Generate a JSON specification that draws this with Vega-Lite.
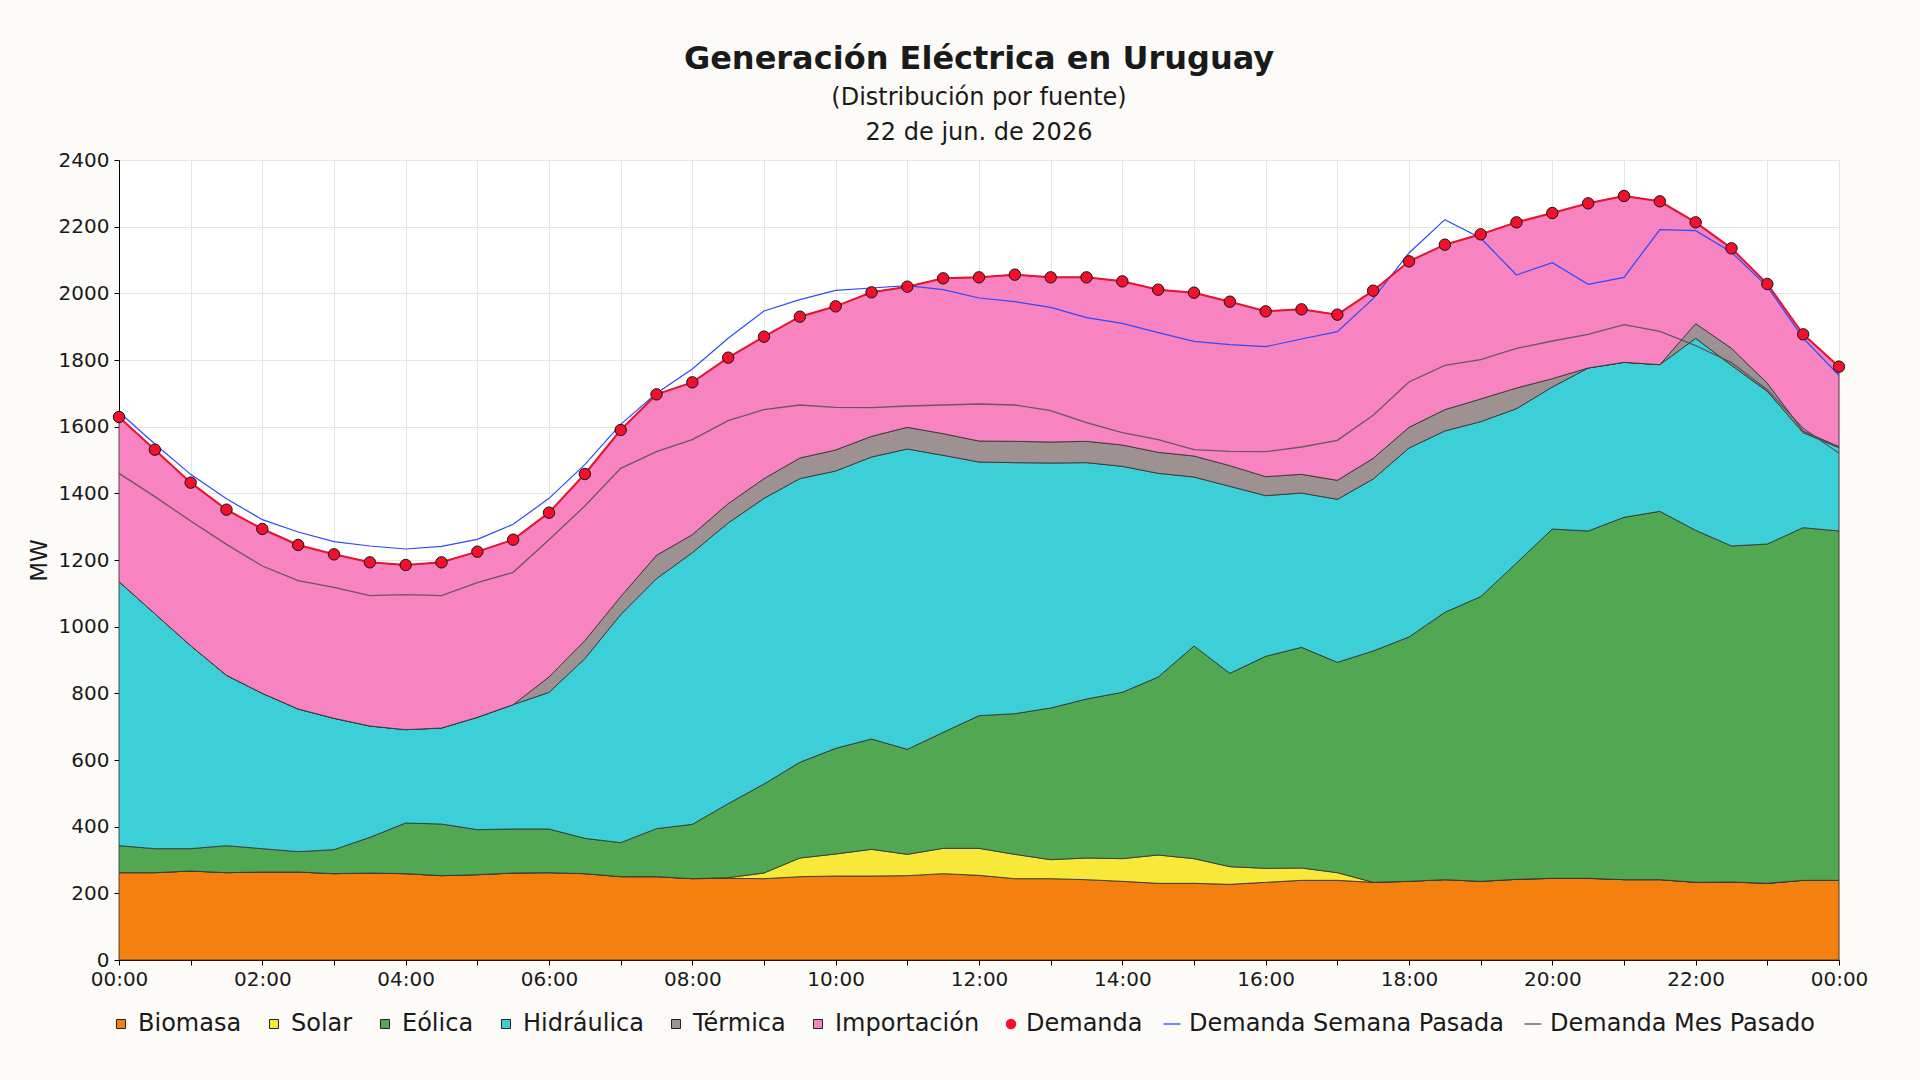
{
  "$schema": "https://vega.github.io/schema/vega-lite/v6.json",
  "width": 1720,
  "height": 800,
  "autosize": {"type": "none"},
  "padding": {"left": 119, "top": 160, "right": 81, "bottom": 120},
  "background": "#fcfbf7",
  "title": {
    "text": "Generación Eléctrica en Uruguay",
    "subtitle": ["(Distribución por fuente)", "22 de jun. de 2026"],
    "anchor": "middle",
    "font": "DejaVu Sans",
    "fontSize": 32,
    "fontWeight": "bold",
    "color": "#1a1a1a",
    "subtitleFont": "DejaVu Sans",
    "subtitleFontSize": 24,
    "subtitleLineHeight": 35,
    "subtitleColor": "#1a1a1a",
    "subtitlePadding": 10,
    "offset": 4
  },
  "config": {
    "font": "DejaVu Sans",
    "view": {"fill": "#ffffff", "stroke": null}
  },
  "datasets": {
    "fuentes": [
      {"fuente": "Biomasa", "orden": 1},
      {"fuente": "Solar", "orden": 2},
      {"fuente": "Eólica", "orden": 3},
      {"fuente": "Hidráulica", "orden": 4},
      {"fuente": "Térmica", "orden": 5},
      {"fuente": "Importación", "orden": 6}
    ],
    "generacion": [
      {"hora": "2026-06-22T00:00", "Biomasa": 262, "Solar": 0, "Eólica": 81, "Hidráulica": 792, "Térmica": 0, "Importación": 494, "Demanda": 1629, "Semana": 1644, "Mes": 1460},
      {"hora": "2026-06-22T00:30", "Biomasa": 262, "Solar": 0, "Eólica": 72, "Hidráulica": 705, "Térmica": 0, "Importación": 492, "Demanda": 1531, "Semana": 1548, "Mes": 1390},
      {"hora": "2026-06-22T01:00", "Biomasa": 267, "Solar": 0, "Eólica": 67, "Hidráulica": 609, "Térmica": 0, "Importación": 489, "Demanda": 1432, "Semana": 1457, "Mes": 1317},
      {"hora": "2026-06-22T01:30", "Biomasa": 262, "Solar": 0, "Eólica": 81, "Hidráulica": 511, "Térmica": 0, "Importación": 497, "Demanda": 1351, "Semana": 1384, "Mes": 1247},
      {"hora": "2026-06-22T02:00", "Biomasa": 264, "Solar": 0, "Eólica": 70, "Hidráulica": 466, "Térmica": 0, "Importación": 493, "Demanda": 1293, "Semana": 1321, "Mes": 1182},
      {"hora": "2026-06-22T02:30", "Biomasa": 264, "Solar": 0, "Eólica": 61, "Hidráulica": 428, "Térmica": 0, "Importación": 492, "Demanda": 1245, "Semana": 1284, "Mes": 1138},
      {"hora": "2026-06-22T03:00", "Biomasa": 259, "Solar": 0, "Eólica": 72, "Hidráulica": 394, "Térmica": 0, "Importación": 492, "Demanda": 1217, "Semana": 1255, "Mes": 1118},
      {"hora": "2026-06-22T03:30", "Biomasa": 261, "Solar": 0, "Eólica": 107, "Hidráulica": 334, "Térmica": 0, "Importación": 491, "Demanda": 1193, "Semana": 1242, "Mes": 1093},
      {"hora": "2026-06-22T04:00", "Biomasa": 259, "Solar": 0, "Eólica": 152, "Hidráulica": 280, "Térmica": 0, "Importación": 494, "Demanda": 1185, "Semana": 1233, "Mes": 1096},
      {"hora": "2026-06-22T04:30", "Biomasa": 253, "Solar": 0, "Eólica": 155, "Hidráulica": 288, "Térmica": 0, "Importación": 497, "Demanda": 1193, "Semana": 1241, "Mes": 1093},
      {"hora": "2026-06-22T05:00", "Biomasa": 256, "Solar": 0, "Eólica": 135, "Hidráulica": 337, "Térmica": 0, "Importación": 497, "Demanda": 1225, "Semana": 1262, "Mes": 1132},
      {"hora": "2026-06-22T05:30", "Biomasa": 261, "Solar": 0, "Eólica": 132, "Hidráulica": 373, "Térmica": 0, "Importación": 495, "Demanda": 1261, "Semana": 1307, "Mes": 1163},
      {"hora": "2026-06-22T06:00", "Biomasa": 262, "Solar": 0, "Eólica": 131, "Hidráulica": 410, "Térmica": 46, "Importación": 493, "Demanda": 1342, "Semana": 1385, "Mes": 1261},
      {"hora": "2026-06-22T06:30", "Biomasa": 259, "Solar": 0, "Eólica": 106, "Hidráulica": 539, "Térmica": 54, "Importación": 500, "Demanda": 1458, "Semana": 1486, "Mes": 1362},
      {"hora": "2026-06-22T07:00", "Biomasa": 250, "Solar": 0, "Eólica": 102, "Hidráulica": 684, "Térmica": 54, "Importación": 500, "Demanda": 1590, "Semana": 1607, "Mes": 1475},
      {"hora": "2026-06-22T07:30", "Biomasa": 250, "Solar": 0, "Eólica": 144, "Hidráulica": 750, "Térmica": 70, "Importación": 483, "Demanda": 1697, "Semana": 1700, "Mes": 1525},
      {"hora": "2026-06-22T08:00", "Biomasa": 244, "Solar": 0, "Eólica": 163, "Hidráulica": 815, "Térmica": 54, "Importación": 457, "Demanda": 1733, "Semana": 1773, "Mes": 1561},
      {"hora": "2026-06-22T08:30", "Biomasa": 245, "Solar": 2, "Eólica": 222, "Hidráulica": 842, "Térmica": 58, "Importación": 438, "Demanda": 1807, "Semana": 1865, "Mes": 1618},
      {"hora": "2026-06-22T09:00", "Biomasa": 244, "Solar": 17, "Eólica": 267, "Hidráulica": 857, "Térmica": 59, "Importación": 426, "Demanda": 1870, "Semana": 1947, "Mes": 1651},
      {"hora": "2026-06-22T09:30", "Biomasa": 250, "Solar": 56, "Eólica": 287, "Hidráulica": 851, "Térmica": 62, "Importación": 424, "Demanda": 1930, "Semana": 1981, "Mes": 1665},
      {"hora": "2026-06-22T10:00", "Biomasa": 252, "Solar": 66, "Eólica": 317, "Hidráulica": 832, "Térmica": 63, "Importación": 431, "Demanda": 1961, "Semana": 2009, "Mes": 1658},
      {"hora": "2026-06-22T10:30", "Biomasa": 252, "Solar": 80, "Eólica": 331, "Hidráulica": 846, "Térmica": 62, "Importación": 432, "Demanda": 2003, "Semana": 2016, "Mes": 1657},
      {"hora": "2026-06-22T11:00", "Biomasa": 253, "Solar": 64, "Eólica": 315, "Hidráulica": 901, "Térmica": 65, "Importación": 422, "Demanda": 2020, "Semana": 2023, "Mes": 1662},
      {"hora": "2026-06-22T11:30", "Biomasa": 259, "Solar": 76, "Eólica": 348, "Hidráulica": 831, "Térmica": 65, "Importación": 466, "Demanda": 2045, "Semana": 2011, "Mes": 1665},
      {"hora": "2026-06-22T12:00", "Biomasa": 254, "Solar": 81, "Eólica": 398, "Hidráulica": 761, "Térmica": 63, "Importación": 491, "Demanda": 2048, "Semana": 1986, "Mes": 1668},
      {"hora": "2026-06-22T12:30", "Biomasa": 244, "Solar": 73, "Eólica": 422, "Hidráulica": 753, "Térmica": 64, "Importación": 500, "Demanda": 2056, "Semana": 1975, "Mes": 1665},
      {"hora": "2026-06-22T13:00", "Biomasa": 244, "Solar": 57, "Eólica": 455, "Hidráulica": 735, "Térmica": 63, "Importación": 494, "Demanda": 2048, "Semana": 1958, "Mes": 1648},
      {"hora": "2026-06-22T13:30", "Biomasa": 241, "Solar": 65, "Eólica": 477, "Hidráulica": 709, "Térmica": 64, "Importación": 492, "Demanda": 2048, "Semana": 1927, "Mes": 1612},
      {"hora": "2026-06-22T14:00", "Biomasa": 236, "Solar": 68, "Eólica": 499, "Hidráulica": 678, "Térmica": 64, "Importación": 491, "Demanda": 2036, "Semana": 1910, "Mes": 1582},
      {"hora": "2026-06-22T14:30", "Biomasa": 230, "Solar": 85, "Eólica": 534, "Hidráulica": 611, "Térmica": 63, "Importación": 488, "Demanda": 2011, "Semana": 1882, "Mes": 1561},
      {"hora": "2026-06-22T15:00", "Biomasa": 230, "Solar": 74, "Eólica": 638, "Hidráulica": 507, "Térmica": 63, "Importación": 490, "Demanda": 2002, "Semana": 1856, "Mes": 1531},
      {"hora": "2026-06-22T15:30", "Biomasa": 227, "Solar": 53, "Eólica": 580, "Hidráulica": 561, "Térmica": 62, "Importación": 492, "Demanda": 1975, "Semana": 1846, "Mes": 1526},
      {"hora": "2026-06-22T16:00", "Biomasa": 233, "Solar": 42, "Eólica": 636, "Hidráulica": 482, "Térmica": 57, "Importación": 496, "Demanda": 1946, "Semana": 1840, "Mes": 1525},
      {"hora": "2026-06-22T16:30", "Biomasa": 239, "Solar": 37, "Eólica": 662, "Hidráulica": 463, "Térmica": 56, "Importación": 495, "Demanda": 1952, "Semana": 1863, "Mes": 1539},
      {"hora": "2026-06-22T17:00", "Biomasa": 239, "Solar": 23, "Eólica": 631, "Hidráulica": 489, "Térmica": 57, "Importación": 497, "Demanda": 1936, "Semana": 1885, "Mes": 1559},
      {"hora": "2026-06-22T17:30", "Biomasa": 233, "Solar": 0, "Eólica": 694, "Hidráulica": 516, "Térmica": 62, "Importación": 503, "Demanda": 2008, "Semana": 1984, "Mes": 1634},
      {"hora": "2026-06-22T18:00", "Biomasa": 236, "Solar": 0, "Eólica": 733, "Hidráulica": 567, "Térmica": 62, "Importación": 498, "Demanda": 2096, "Semana": 2121, "Mes": 1734},
      {"hora": "2026-06-22T18:30", "Biomasa": 241, "Solar": 0, "Eólica": 802, "Hidráulica": 544, "Térmica": 64, "Importación": 495, "Demanda": 2146, "Semana": 2221, "Mes": 1784},
      {"hora": "2026-06-22T19:00", "Biomasa": 236, "Solar": 0, "Eólica": 854, "Hidráulica": 525, "Térmica": 68, "Importación": 494, "Demanda": 2177, "Semana": 2166, "Mes": 1801},
      {"hora": "2026-06-22T19:30", "Biomasa": 242, "Solar": 0, "Eólica": 949, "Hidráulica": 463, "Térmica": 62, "Importación": 497, "Demanda": 2213, "Semana": 2055, "Mes": 1835},
      {"hora": "2026-06-22T20:00", "Biomasa": 245, "Solar": 0, "Eólica": 1048, "Hidráulica": 426, "Térmica": 25, "Importación": 497, "Demanda": 2241, "Semana": 2092, "Mes": 1857},
      {"hora": "2026-06-22T20:30", "Biomasa": 245, "Solar": 0, "Eólica": 1042, "Hidráulica": 489, "Térmica": 0, "Importación": 494, "Demanda": 2270, "Semana": 2027, "Mes": 1877},
      {"hora": "2026-06-22T21:00", "Biomasa": 241, "Solar": 0, "Eólica": 1087, "Hidráulica": 465, "Térmica": 0, "Importación": 499, "Demanda": 2292, "Semana": 2048, "Mes": 1906},
      {"hora": "2026-06-22T21:30", "Biomasa": 241, "Solar": 0, "Eólica": 1105, "Hidráulica": 440, "Térmica": 0, "Importación": 490, "Demanda": 2276, "Semana": 2191, "Mes": 1886},
      {"hora": "2026-06-22T22:00", "Biomasa": 233, "Solar": 0, "Eólica": 1056, "Hidráulica": 576, "Térmica": 44, "Importación": 304, "Demanda": 2213, "Semana": 2188, "Mes": 1843},
      {"hora": "2026-06-22T22:30", "Biomasa": 234, "Solar": 0, "Eólica": 1008, "Hidráulica": 542, "Térmica": 51, "Importación": 300, "Demanda": 2135, "Semana": 2123, "Mes": 1792},
      {"hora": "2026-06-22T23:00", "Biomasa": 230, "Solar": 0, "Eólica": 1018, "Hidráulica": 458, "Térmica": 24, "Importación": 298, "Demanda": 2028, "Semana": 2020, "Mes": 1711},
      {"hora": "2026-06-22T23:30", "Biomasa": 239, "Solar": 0, "Eólica": 1058, "Hidráulica": 285, "Térmica": 5, "Importación": 290, "Demanda": 1877, "Semana": 1866, "Mes": 1595},
      {"hora": "2026-06-23T00:00", "Biomasa": 239, "Solar": 0, "Eólica": 1048, "Hidráulica": 250, "Térmica": 3, "Importación": 240, "Demanda": 1780, "Semana": 1754, "Mes": 1520}
    ]
  },
  "layer": [
    {
      "data": {"name": "generacion"},
      "transform": [
        {"fold": ["Biomasa", "Solar", "Eólica", "Hidráulica", "Térmica", "Importación"], "as": ["fuente", "mw"]},
        {"lookup": "fuente", "from": {"data": {"name": "fuentes"}, "key": "fuente", "fields": ["orden"]}}
      ],
      "mark": {"type": "area", "stroke": "#333333", "strokeWidth": 1, "strokeOpacity": 0.85},
      "encoding": {
        "x": {
          "field": "hora", "type": "temporal", "title": null,
          "scale": {"nice": false},
          "axis": {
            "tickCount": 24,
            "labelExpr": "hours(datum.value) % 2 === 0 ? timeFormat(datum.value, '%H:%M') : ''",
            "labelOverlap": false,
            "labelFlush": false,
            "labelFontSize": 20,
            "labelColor": "#1a1a1a",
            "labelPadding": 4,
            "tickSize": 5,
            "tickColor": "#000000",
            "domainColor": "#000000",
            "grid": true,
            "gridColor": "#e6e6e0"
          }
        },
        "y": {
          "field": "mw", "type": "quantitative", "stack": "zero", "title": "MW",
          "scale": {"domain": [0, 2400], "nice": false},
          "axis": {
            "values": [0, 100, 200, 300, 400, 500, 600, 700, 800, 900, 1000, 1100, 1200, 1300, 1400, 1500, 1600, 1700, 1800, 1900, 2000, 2100, 2200, 2300, 2400],
            "labelExpr": "datum.value % 200 === 0 ? '' + datum.value : ''",
            "labelOverlap": false,
            "labelFontSize": 20,
            "labelColor": "#1a1a1a",
            "labelPadding": 5,
            "tickSize": 5,
            "tickColor": "#000000",
            "domainColor": "#000000",
            "grid": true,
            "gridColor": "#e6e6e0",
            "titleFontSize": 23,
            "titleFontWeight": "normal",
            "titleColor": "#1a1a1a",
            "titlePadding": 7
          }
        },
        "color": {
          "field": "fuente", "type": "nominal",
          "scale": {
            "domain": ["Biomasa", "Solar", "Eólica", "Hidráulica", "Térmica", "Importación"],
            "range": ["#f3800f", "#f7e83a", "#52a852", "#3ccfd8", "#9e9191", "#f783c0"]
          },
          "legend": {
            "orient": "none", "legendX": -10, "legendY": 852,
            "direction": "horizontal", "title": null, "padding": 0,
            "symbolType": "square", "symbolSize": 81,
            "symbolStrokeColor": "#222222", "symbolStrokeWidth": 1,
            "labelFontSize": 24, "labelColor": "#1a1a1a", "labelOffset": 5, "labelLimit": 400,
            "columnPadding": 20
          }
        },
        "order": {"field": "orden", "type": "quantitative", "sort": "ascending"}
      }
    },
    {
      "data": {"name": "generacion"},
      "mark": {"type": "line", "strokeWidth": 1.3, "opacity": 0.85},
      "encoding": {
        "x": {"field": "hora", "type": "temporal", "title": null},
        "y": {"field": "Mes", "type": "quantitative", "title": "MW"},
        "stroke": {
          "datum": "Demanda Mes Pasado", "type": "nominal",
          "scale": {"domain": ["Demanda Semana Pasada", "Demanda Mes Pasado"], "range": ["#2a4bff", "#505050"]},
          "legend": {
            "orient": "none", "legendX": 1041, "legendY": 852,
            "direction": "horizontal", "title": null, "padding": 0,
            "symbolType": "stroke", "symbolSize": 289, "symbolStrokeWidth": 1.5,
            "labelFontSize": 24, "labelColor": "#1a1a1a", "labelOffset": 5, "labelLimit": 400,
            "columnPadding": 17
          }
        }
      }
    },
    {
      "data": {"name": "generacion"},
      "mark": {"type": "line", "strokeWidth": 1.2},
      "encoding": {
        "x": {"field": "hora", "type": "temporal", "title": null},
        "y": {"field": "Semana", "type": "quantitative", "title": "MW"},
        "stroke": {"datum": "Demanda Semana Pasada", "type": "nominal"}
      }
    },
    {
      "data": {"name": "generacion"},
      "mark": {"type": "line", "color": "#e8132d", "strokeWidth": 2},
      "encoding": {
        "x": {"field": "hora", "type": "temporal", "title": null},
        "y": {"field": "Demanda", "type": "quantitative", "title": "MW"}
      }
    },
    {
      "data": {"name": "generacion"},
      "mark": {"type": "point", "filled": true, "fill": "#f2102c", "stroke": "#111111", "strokeWidth": 1, "size": 130, "opacity": 1},
      "encoding": {
        "x": {"field": "hora", "type": "temporal", "title": null},
        "y": {"field": "Demanda", "type": "quantitative", "title": "MW"},
        "shape": {
          "datum": "Demanda", "type": "nominal",
          "scale": {"domain": ["Demanda"], "range": ["circle"]},
          "legend": {
            "orient": "none", "legendX": 880, "legendY": 852,
            "title": null, "padding": 0,
            "symbolSize": 110, "symbolFillColor": "#f2102c", "symbolStrokeColor": "#111111", "symbolStrokeWidth": 1,
            "labelFontSize": 24, "labelColor": "#1a1a1a", "labelOffset": 3, "labelLimit": 400
          }
        }
      }
    }
  ]
}
